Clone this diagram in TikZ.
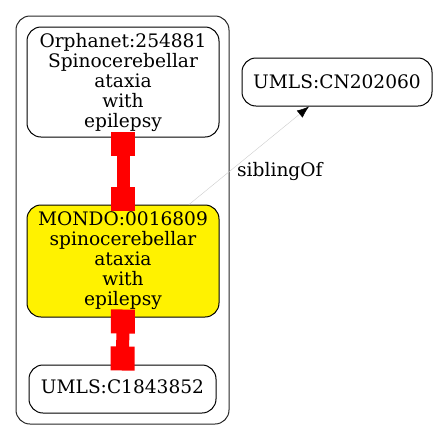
\documentclass[tikz,border=0pt]{standalone}
\usepackage{fontspec}
\setmainfont{DejaVu Serif}
\usetikzlibrary{arrows.meta}
\begin{document}
\begin{tikzpicture}[x=1pt,y=-1pt,
  every node/.style={font=\fontsize{18.6}{20}\selectfont},
  termbox/.style={draw=black, line width=1pt, rounded corners=14pt, inner sep=0pt, align=center},
  cluster/.style={draw=black!85, line width=1pt, rounded corners=14pt},
  xrefedge/.style={draw=red, line width=13pt, {Square[length=24pt,width=24pt]}-{Square[length=24pt,width=24pt]}},
  sibedge/.style={draw=black!20, line width=0.4pt, -{Latex[length=12pt,width=9pt,color=black]}}
]
\useasboundingbox (0,0) rectangle (438,440);
\draw[cluster] (16,16) rectangle (229,424);
\node[termbox, minimum width=192pt, minimum height=110pt] (orph) at (123,82)
  {Orphanet:254881\\Spinocerebellar\\ataxia\\with\\epilepsy};
\node[termbox, fill=yellow, minimum width=192pt, minimum height=112pt] (mondo) at (123,261)
  {MONDO:0016809\\spinocerebellar\\ataxia\\with\\epilepsy};
\node[termbox, minimum width=187pt, minimum height=48pt, text height=13pt, text depth=4pt] (umls) at (122.5,389)
  {UMLS:C1843852};
\node[termbox, minimum width=190pt, minimum height=48pt] (cn) at (337,82)
  {UMLS:CN202060};
\draw[xrefedge] ([yshift=6pt]orph.south) -- ([yshift=-6pt]mondo.north);
\draw[xrefedge] ([yshift=8pt]mondo.south) -- ([yshift=-6pt]umls.north);
\draw[sibedge] ([xshift=66pt]mondo.north) -- ([xshift=-28pt]cn.south);
\node[anchor=base west, inner sep=0pt] (lbl) at (237,176) {siblingOf};
\end{tikzpicture}
\end{document}
